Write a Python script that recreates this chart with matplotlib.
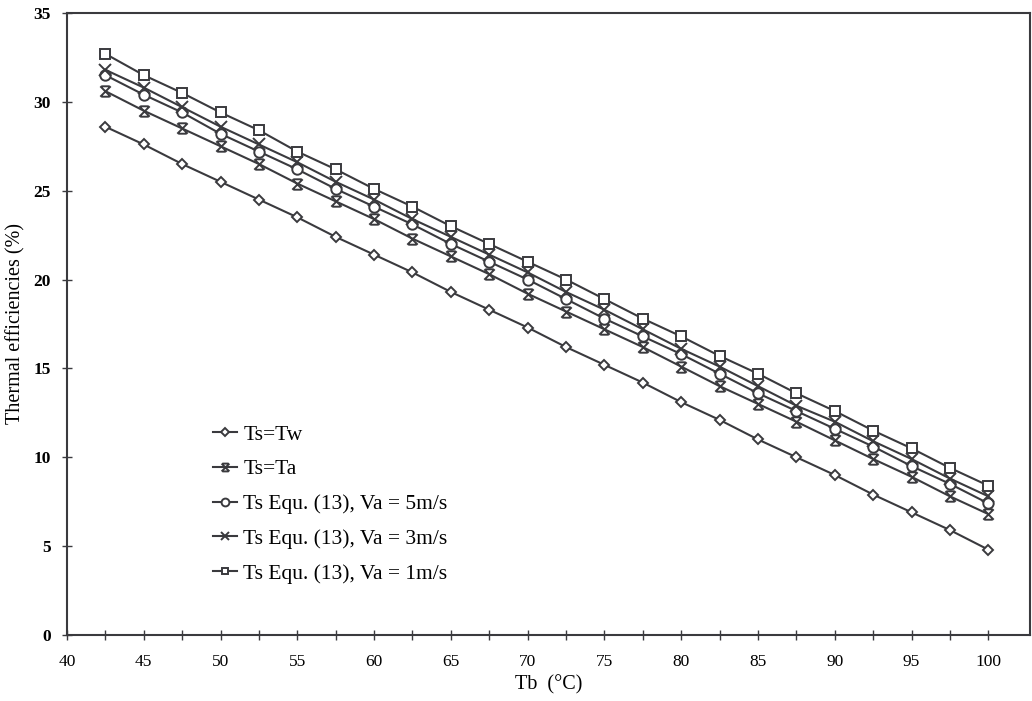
import matplotlib
matplotlib.use("Agg")
import matplotlib.pyplot as plt
from matplotlib.path import Path
import numpy as np

tb = [42.5, 45, 47.5, 50, 52.5, 55, 57.5, 60, 62.5, 65, 67.5, 70, 72.5, 75,
      77.5, 80, 82.5, 85, 87.5, 90, 92.5, 95, 97.5, 100]

ts_tw = [28.6, 27.6, 26.5, 25.5, 24.5, 23.5, 22.4, 21.4, 20.4, 19.3, 18.3, 17.3,
         16.2, 15.2, 14.2, 13.1, 12.1, 11.0, 10.0, 9.0, 7.9, 6.9, 5.9, 4.8]
ts_ta = [30.6, 29.5, 28.5, 27.5, 26.5, 25.4, 24.4, 23.4, 22.3, 21.3, 20.3, 19.2,
         18.2, 17.2, 16.2, 15.1, 14.0, 13.0, 12.0, 10.95, 9.9, 8.9, 7.8, 6.8]
va5 = [31.5, 30.4, 29.4, 28.2, 27.2, 26.2, 25.1, 24.1, 23.1, 22.0, 21.0, 20.0,
       18.9, 17.8, 16.8, 15.8, 14.7, 13.6, 12.6, 11.6, 10.6, 9.5, 8.5, 7.4]
va3 = [31.8, 30.8, 29.7, 28.6, 27.6, 26.6, 25.5, 24.5, 23.4, 22.4, 21.4, 20.4,
       19.3, 18.3, 17.2, 16.1, 15.1, 14.0, 12.9, 12.0, 10.9, 9.9, 8.8, 7.8]
va1 = [32.7, 31.5, 30.5, 29.4, 28.4, 27.2, 26.2, 25.1, 24.1, 23.0, 22.0, 21.0,
       20.0, 18.9, 17.8, 16.8, 15.7, 14.7, 13.6, 12.6, 11.5, 10.5, 9.4, 8.4]

labels = ["Ts=Tw", "Ts=Ta", "Ts Equ. (13), Va = 5m/s",
          "Ts Equ. (13), Va = 3m/s", "Ts Equ. (13), Va = 1m/s"]
x_major = [40, 45, 50, 55, 60, 65, 70, 75, 80, 85, 90, 95, 100]
y_major = [0, 5, 10, 15, 20, 25, 30, 35]

plt.rcParams['font.family'] = ['Liberation Serif', 'DejaVu Serif']

# X marker with horizontal bars (Ts=Ta)
bar_x = Path([(-1, -1), (1, 1), (-1, 1), (1, -1), (-0.8, 1), (0.8, 1), (-0.8, -1), (0.8, -1)],
             [Path.MOVETO, Path.LINETO, Path.MOVETO, Path.LINETO,
              Path.MOVETO, Path.LINETO, Path.MOVETO, Path.LINETO])

col = '#3a3a3e'
fig = plt.figure(figsize=(10.32, 7.01), dpi=100)
ax = fig.add_axes([0.0649, 0.0942, 0.933, 0.8873])

common = dict(color=col, lw=1.5, mfc='white', mec=col, mew=1.4)
ax.plot(tb, ts_tw, marker='D', ms=5, label=labels[0], **common)
ax.plot(tb, ts_ta, marker=bar_x, ms=7.5, label=labels[1], **common)
ax.plot(tb, va5, marker='o', ms=7.5, label=labels[2], **common)
ax.plot(tb, va3, marker='x', ms=8, label=labels[3], **common)
ax.plot(tb, va1, marker='s', ms=6.5, label=labels[4], **common)

ax.set_xlim(40, 102.7)
ax.set_ylim(0, 35)
ax.set_xticks(x_major)
ax.set_xticks(np.arange(42.5, 102.5, 5), minor=True)
ax.set_yticks(y_major)
ax.tick_params(axis='both', which='both', direction='inout', length=7, width=1,
               color=col, labelsize=12.5)
ax.tick_params(axis='x', pad=10)
ax.tick_params(axis='y', pad=8)
for t in ax.get_yticklabels():
    t.set_fontweight('bold')
for s in ax.spines.values():
    s.set_linewidth(1.5)
    s.set_color(col)

ax.set_xlabel("Tb  (°C)", fontsize=14.5, labelpad=4)
ax.set_ylabel("Thermal efficiencies (%)", fontsize=14.5, labelpad=6)

ax.legend(loc='upper left', bbox_to_anchor=(0.143, 0.352), frameon=False,
          fontsize=15.5, handlelength=1.1, handletextpad=0.3, labelspacing=0.68,
          borderaxespad=0, markerscale=0.75)

fig.savefig("out.png", dpi=100)
